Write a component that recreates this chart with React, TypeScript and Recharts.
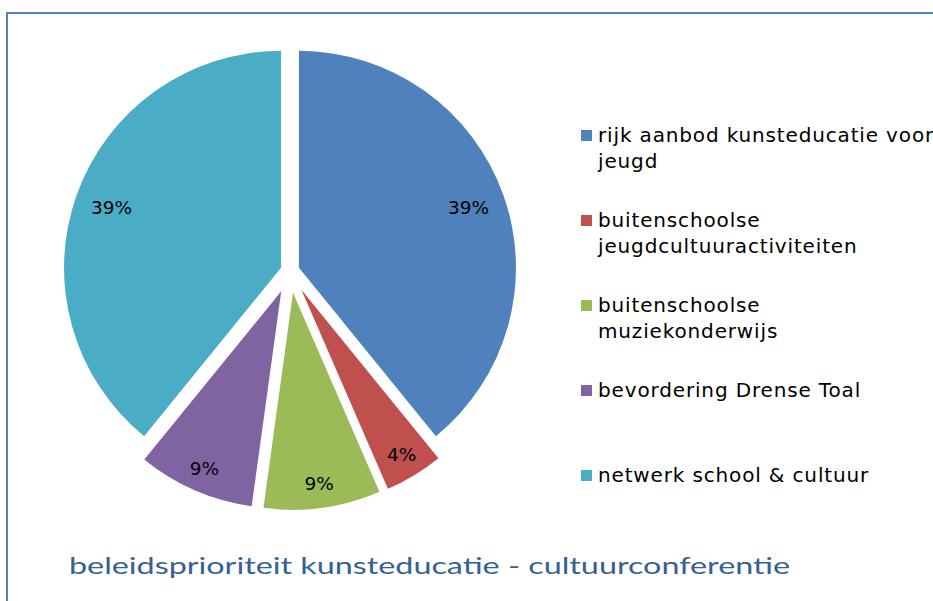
import React from "react";
import { PieChart, Pie, Cell, Legend, Sector } from "recharts";

// categories and values
const categories = [
  "rijk aanbod kunsteducatie voor jeugd",
  "buitenschoolse jeugdcultuuractiviteiten",
  "buitenschoolse muziekonderwijs",
  "bevordering Drense Toal",
  "netwerk school & cultuur",
];
const values = [9, 1, 2, 2, 9];
const colors = ["#4f81bd", "#c0504d", "#9bbb59", "#8064a2", "#4bacc6"];
const title = "beleidsprioriteit kunsteducatie - cultuurconferentie";

const data = categories.map((name, i) => ({ name, value: values[i] }));

const RAD = Math.PI / 180;
// small slices are pulled further out than the two big ones
const explodeFor = (percent: number) => (percent > 0.2 ? 9.5 : 22);
const labelDistFor = (percent: number) => (percent > 0.2 ? 180 : 193);

const ExplodedSector = (props: any) => {
  const d = explodeFor(props.percent);
  const dx = d * Math.cos(-props.midAngle * RAD);
  const dy = d * Math.sin(-props.midAngle * RAD);
  return <Sector {...props} cx={props.cx + dx} cy={props.cy + dy} />;
};

const renderLabel = (props: any) => {
  const { cx, cy, midAngle, percent } = props;
  const r = explodeFor(percent) + labelDistFor(percent);
  const x = cx + r * Math.cos(-midAngle * RAD);
  const y = cy + r * Math.sin(-midAngle * RAD);
  return (
    <text
      x={x}
      y={y}
      fill="#000"
      textAnchor="middle"
      dominantBaseline="central"
      fontFamily="DejaVu Sans"
      fontSize={18.5}
    >
      {`${Math.round(percent * 100)}%`}
    </text>
  );
};

// legend keeps the series order (recharts would sort it by name)
const renderLegend = () => (
  <div>
    {categories.map((name, i) => (
      <div key={i} style={{ position: "relative", height: 85, paddingLeft: 17 }}>
        <div
          style={{
            position: "absolute",
            left: 0,
            top: 7.5,
            width: 11,
            height: 11,
            background: colors[i],
          }}
        />
        <div
          style={{
            width: 345,
            fontFamily: "DejaVu Sans",
            fontSize: 20,
            lineHeight: "26px",
            letterSpacing: 0.85,
            color: "#000",
          }}
        >
          {name}
        </div>
      </div>
    ))}
  </div>
);

export default function App() {
  return (
    <div
      style={{
        position: "absolute",
        left: 0,
        top: 0,
        width: 933,
        height: 601,
        overflow: "hidden",
        background: "#fff",
      }}
    >
      <div
        style={{
          position: "absolute",
          left: 6,
          top: 12,
          width: 1000,
          height: 700,
          border: "2px solid #4f81bd",
          boxSizing: "border-box",
        }}
      />
      <div style={{ position: "absolute", left: 0, top: 0 }}>
        <PieChart
          width={933}
          height={601}
          margin={{ top: 0, right: 0, bottom: 0, left: 0 }}
        >
          <Pie
            data={data}
            dataKey="value"
            nameKey="name"
            cx={290}
            cy={271}
            outerRadius={217}
            startAngle={90}
            endAngle={-270}
            stroke="none"
            labelLine={false}
            label={renderLabel}
            shape={ExplodedSector}
            activeShape={ExplodedSector}
            inactiveShape={ExplodedSector}
            isAnimationActive={false}
          >
            {data.map((_, i) => (
              <Cell key={i} fill={colors[i]} />
            ))}
          </Pie>
          <Legend
            layout="vertical"
            verticalAlign="top"
            align="right"
            content={renderLegend}
            wrapperStyle={{ left: 581, top: 122, width: 360, right: "auto" }}
          />
        </PieChart>
      </div>
      <svg
        width={933}
        height={601}
        style={{ position: "absolute", left: 0, top: 0, pointerEvents: "none" }}
      >
        <text
          x={69}
          y={574}
          fill="#376092"
          fontFamily="Lato"
          fontSize={23}
          textLength={721}
          lengthAdjust="spacingAndGlyphs"
        >
          {title}
        </text>
      </svg>
    </div>
  );
}
